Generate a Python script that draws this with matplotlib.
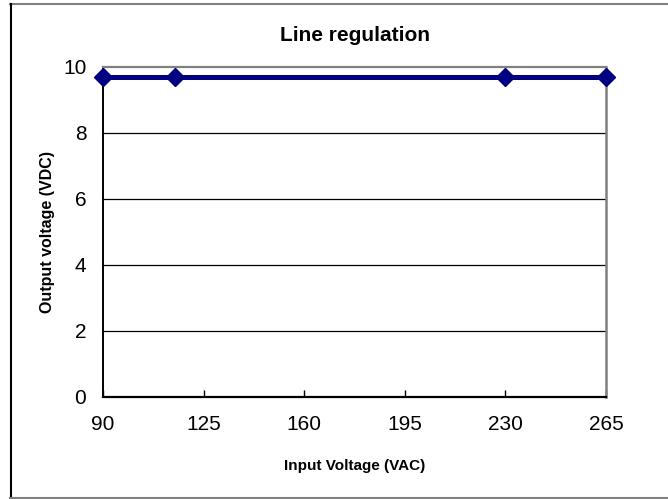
import matplotlib
matplotlib.use("Agg")
import matplotlib.pyplot as plt
from matplotlib.lines import Line2D

plt.rcParams['font.family'] = ['Liberation Sans', 'DejaVu Sans']

input_voltage = [90, 115, 230, 265]
output_voltage = [9.7, 9.7, 9.7, 9.7]
x_ticks = [90, 125, 160, 195, 230, 265]
y_ticks = [0, 2, 4, 6, 8, 10]

W, H = 668, 499
fig = plt.figure(figsize=(W / 100, H / 100), dpi=100)
ax = fig.add_axes([103 / W, (H - 397) / H, 503 / W, 330 / H])

ax.set_xlim(90, 265)
ax.set_ylim(0, 10)
ax.set_xticks(x_ticks)
ax.set_yticks(y_ticks)
ax.set_xticklabels([str(v) for v in x_ticks], fontsize=15)
ax.set_yticklabels([str(v) for v in y_ticks], fontsize=15)
ax.tick_params(axis='x', direction='in', length=5, width=1, pad=13, color='black')
ax.tick_params(axis='y', length=0, pad=12)

for y in y_ticks[1:-1]:
    ax.axhline(y, color='black', lw=0.9, zorder=1)

ax.plot(input_voltage, output_voltage, color='#000080', lw=3.6,
        marker='D', markersize=9.5, markerfacecolor='#000080',
        markeredgecolor='#000080', zorder=5, clip_on=False)

ax.spines['left'].set_color('black')
ax.spines['left'].set_linewidth(1.4)
ax.spines['bottom'].set_color('black')
ax.spines['bottom'].set_linewidth(1.6)
ax.spines['top'].set_color('#808080')
ax.spines['top'].set_linewidth(1.6)
ax.spines['right'].set_color('#808080')
ax.spines['right'].set_linewidth(1.8)

ax.set_title('Line regulation', fontsize=15, fontweight='bold', pad=19)
ax.set_xlabel('Input Voltage (VAC)', fontsize=11, fontweight='bold', labelpad=18)
ax.set_ylabel('Output voltage (VDC)', fontsize=11.5, fontweight='bold', labelpad=6)

# chart border
fig.add_artist(Line2D([10 / W, 1], [1 - 3.5 / H, 1 - 3.5 / H], color='#808080', lw=1.5, transform=fig.transFigure))
fig.add_artist(Line2D([10.5 / W, 10.5 / W], [1 - 3.5 / H, 1 - 498 / H], color='black', lw=1.5, transform=fig.transFigure))
fig.add_artist(Line2D([10 / W, 1], [1 - 497.5 / H, 1 - 497.5 / H], color='#808080', lw=1.5, transform=fig.transFigure))

fig.savefig('out.png', dpi=100)
